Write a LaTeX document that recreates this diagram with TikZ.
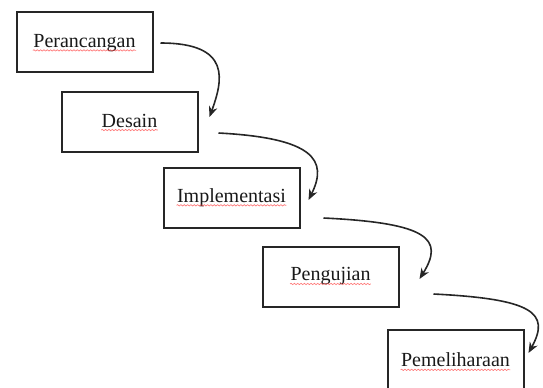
\documentclass[tikz,border=0pt]{standalone}
\usepackage{fontspec}
\setmainfont{Liberation Serif}
\usetikzlibrary{arrows.meta,decorations.pathmorphing}

\tikzset{every picture/.style={line width=0.75pt}}
\tikzset{
  stagebox/.style={draw=black!85,line width=1.5pt,fill=white,minimum width=102pt,minimum height=45pt,inner sep=0pt},
  stageword/.style={inner sep=0pt,font=\fontsize{15}{18}\selectfont,text=black!90},
  spellmark/.style={draw=red!75,line width=0.5pt,opacity=0.7,decorate,decoration={snake,amplitude=0.5pt,segment length=2.5pt}},
  flow/.style={draw=black!85,line width=1.2pt,-{Stealth[length=8pt,width=6.5pt]}}
}

\begin{document}
\begin{tikzpicture}[x=0.75pt,y=0.75pt,yscale=-1,xscale=1]
\useasboundingbox (0,0) rectangle (543,387);
\clip (0,0) rectangle (543,387);

%Shape: Rectangle [Perancangan]
\node[stagebox] (p1) at (84.5,42) {};
%Shape: Rectangle [Desain]
\node[stagebox] (p2) at (129.5,121.5) {};
%Shape: Rectangle [Implementasi]
\node[stagebox] (p3) at (231.5,197.5) {};
%Shape: Rectangle [Pengujian]
\node[stagebox] (p4) at (330.5,276.5) {};
%Shape: Rectangle [Pemeliharaan]
\node[stagebox] (p5) at (455.5,360) {};

% Text Node
\node[stageword] (w1) at ([shift={(0,1)}]p1) {Perancangan};
% Text Node
\node[stageword] (w2) at ([shift={(0,-1)}]p2) {Desain};
% Text Node
\node[stageword] (w3) at (p3) {Implementasi};
% Text Node
\node[stageword] (w4) at (p4) {Pengujian};
% Text Node
\node[stageword] (w5) at (p5) {Pemeliharaan};

%Wavy underlines
\foreach \w in {w1,w2,w3,w4,w5}
  \draw[spellmark] ([shift={(0,3)}]\w.base west) -- ([shift={(0,3)}]\w.base east);

%Curve Lines [id:p1-p2]
\draw[flow] ([shift={(7,1)}]p1.east) .. controls +(72,0) and +(13,-36) .. ([shift={(11,-4.5)}]p2.east);
%Curve Lines [id:p2-p3]
\draw[flow] ([shift={(20,11.5)}]p2.east) .. controls +(95,5) and +(20,-40) .. ([shift={(8,2.5)}]p3.east);
%Curve Lines [id:p3-p4]
\draw[flow] ([shift={(23,20.5)}]p3.east) .. controls +(105,5) and +(25,-40) .. ([shift={(20,2.5)}]p4.east);
%Curve Lines [id:p4-p5]
\draw[flow] ([shift={(34,17.5)}]p4.east) .. controls +(100,5) and +(22,-40) .. ([shift={(4,-7)}]p5.east);

\end{tikzpicture}
\end{document}
